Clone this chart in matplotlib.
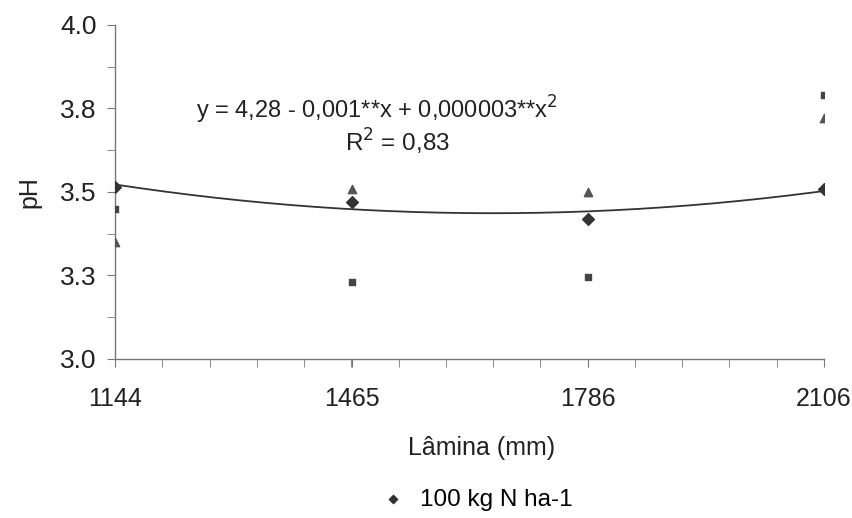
import numpy as np
import matplotlib
matplotlib.use("Agg")
import matplotlib.pyplot as plt
from matplotlib.ticker import FixedLocator, MultipleLocator, FuncFormatter

plt.rcParams['font.family'] = ['Liberation Sans', 'DejaVu Sans']

# Dados
laminas = [1144, 1465, 1786, 2106]
ph_100 = [3.515, 3.47, 3.42, 3.51]      # losangos (100 kg N ha-1)
ph_quad = [3.45, 3.23, 3.245, 3.79]     # quadrados
ph_tri = [3.35, 3.51, 3.50, 3.72]       # triângulos
xtick_labels = ['1144', '1465', '1786', '2106']

fig = plt.figure(figsize=(8.52, 5.18), dpi=100)
ax = fig.add_axes([0.135, 0.307, 0.832, 0.645])

# Curva de regressão quadrática ajustada aos losangos
coef = np.polyfit(laminas, ph_100, 2)
xs = np.linspace(laminas[0], laminas[-1], 200)
ax.plot(xs, np.polyval(coef, xs), color='#333333', lw=1.3, zorder=2)

ax.scatter(laminas, ph_quad, marker='s', s=20, color='#444444', zorder=3)
ax.scatter(laminas, ph_tri, marker='^', s=36, color='#555555', zorder=3)
ax.scatter(laminas, ph_100, marker='D', s=36, color='#333333', zorder=4,
           label='100 kg N ha-1')

ax.set_xlim(laminas[0], laminas[-1])
ax.set_ylim(3.0, 4.0)
ax.xaxis.set_major_locator(FixedLocator(laminas))
ax.set_xticklabels(xtick_labels)
passo = (laminas[-1] - laminas[0]) / 15
ax.xaxis.set_minor_locator(FixedLocator([laminas[0] + i * passo for i in range(16)]))
ax.yaxis.set_major_locator(MultipleLocator(0.25))
ax.yaxis.set_minor_locator(MultipleLocator(0.125))
# arredonda 3.25 -> 3.3 e 3.75 -> 3.8 como no original
ax.yaxis.set_major_formatter(FuncFormatter(lambda v, p: '%.1f' % (np.floor(v * 10 + 0.5 + 1e-9) / 10)))

for s in ['top', 'right']:
    ax.spines[s].set_visible(False)
for s in ['left', 'bottom']:
    ax.spines[s].set_color('#777777')
    ax.spines[s].set_linewidth(1.0)

ax.tick_params(axis='both', which='both', direction='out', length=6,
               color='#777777', labelcolor='#222222')
ax.tick_params(axis='x', labelsize=18, pad=14)
ax.tick_params(axis='y', labelsize=19, pad=7)

ax.set_xlabel('Lâmina (mm)', fontsize=18, color='#222222', labelpad=18)
ax.xaxis.label.set_x(0.517)
ax.set_ylabel('pH', fontsize=18, color='#222222', labelpad=14)

ax.text(0.37, 0.745, 'y = 4,28 - 0,001**x + 0,000003**x$^2$', transform=ax.transAxes,
        ha='center', va='center', fontsize=17, color='#222222')
ax.text(0.398, 0.65, 'R$^2$ = 0,83', transform=ax.transAxes,
        ha='center', va='center', fontsize=17.5, color='#222222')

fig.legend(loc='center', bbox_to_anchor=(0.552, 0.035), frameon=False,
           fontsize=17.5, handletextpad=0.1, markerscale=0.7)

fig.savefig('out.png', dpi=100, facecolor='white')
